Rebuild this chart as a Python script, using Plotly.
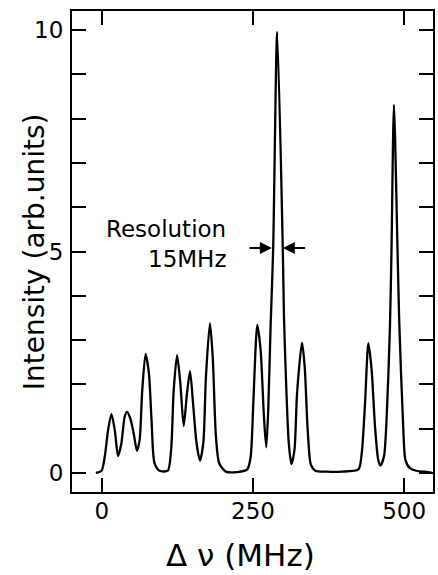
import plotly.graph_objects as go

# Spectrum trace (Δν in MHz, intensity in arb. units)
freq_mhz = [-9.9, -0.5, 4.9, 10.4, 15.9, 21.4, 26.9, 32.4, 37.8, 41.7, 47.1, 52.6, 58.1,
            62.5, 66.9, 72.4, 77.9, 82.2, 87.2, 95.4, 109.1, 114.6, 118.9, 124.5, 129.9,
            135.4, 140.9, 145.9, 151.3, 156.7, 162.3, 167.8, 172.2, 178.8, 183.5, 188.6,
            194.1, 205.0, 224.2, 240.6, 246.2, 250.5, 257.1, 262.6, 268.1, 271.9, 275.2,
            279.1, 283.4, 290.0, 299.3, 301.3, 305.4, 309.2, 313.6, 318.6, 322.9, 331.1,
            335.5, 340.5, 345.9, 353.1, 372.2, 396.9, 424.3, 429.8, 435.3, 440.8, 446.2,
            451.8, 457.2, 461.0, 466.6, 470.9, 476.5, 479.1, 483.1, 489.0, 491.8, 498.4,
            502.2, 509.4, 520.2, 539.5, 546.0]
intensity = [0.00, 0.05, 0.37, 0.97, 1.33, 0.97, 0.38, 0.67, 1.27, 1.38, 1.23, 0.90, 0.50,
             0.74, 1.87, 2.69, 2.25, 1.20, 0.22, 0.05, 0.05, 0.52, 1.87, 2.66, 2.02,
             1.06, 1.80, 2.30, 1.50, 0.67, 0.28, 0.67, 2.17, 3.38, 2.60, 0.85,
             0.22, 0.03, 0.02, 0.08, 0.37, 1.57, 3.34, 2.78, 1.27, 0.58, 1.42,
             3.30, 5.07, 9.96, 5.07, 3.50, 1.80, 0.67, 0.20, 0.52, 1.80, 2.94,
             2.40, 0.97, 0.18, 0.05, 0.03, 0.03, 0.08, 0.44, 1.57, 2.93, 2.33,
             1.05, 0.29, 0.17, 0.37, 1.20, 3.30, 5.07, 8.31, 5.07, 3.45, 1.05,
             0.29, 0.11, 0.05, 0.02, 0.00]

x_tickvals = [0, 250, 500]
x_ticktext = ["0", "250", "500"]
y_tickvals = [0, 1, 2, 3, 4, 5, 6, 7, 8, 9, 10]
y_ticktext = ["0", "", "", "", "", "5", "", "", "", "", "10"]

FONT = "DejaVu Sans"

fig = go.Figure()
fig.add_trace(go.Scatter(x=freq_mhz, y=intensity, mode="lines",
                         line=dict(color="black", width=2.3, shape="spline", smoothing=0.7),
                         showlegend=False, hoverinfo="skip"))

axis_common = dict(showline=True, linecolor="black", linewidth=2, mirror="ticks",
                   ticks="inside", ticklen=14, tickwidth=2, tickcolor="black",
                   showgrid=False, zeroline=False,
                   tickfont=dict(family=FONT, size=23, color="black"))

fig.update_xaxes(range=[-49.3, 547.7], tickvals=x_tickvals, ticktext=x_ticktext,
                 ticklabelstandoff=-3, **axis_common)
fig.update_yaxes(range=[-0.43, 10.43], tickvals=y_tickvals, ticktext=y_ticktext,
                 ticklabelstandoff=2, **axis_common)

annotations = [
    dict(text="Δ ν (MHz)", xref="paper", yref="paper", x=0.468, y=-0.131,
         xanchor="center", yanchor="middle", showarrow=False,
         font=dict(family=FONT, size=31, color="black")),
    dict(text="Intensity (arb.units)", xref="paper", yref="paper", x=-0.103, y=0.5,
         xanchor="center", yanchor="middle", textangle=-90, showarrow=False,
         font=dict(family=FONT, size=28, color="black")),
    dict(text="Resolution", xref="x", yref="y", x=208.9, y=5.5,
         xanchor="right", yanchor="middle", showarrow=False,
         font=dict(family=FONT, size=23, color="black")),
    dict(text="15MHz", xref="x", yref="y", x=208.9, y=4.83,
         xanchor="right", yanchor="middle", showarrow=False,
         font=dict(family=FONT, size=23, color="black")),
    dict(text="", xref="x", yref="y", axref="x", ayref="y",
         x=281.2, y=5.08, ax=241.8, ay=5.08, showarrow=True,
         arrowhead=2, arrowsize=1.2, arrowwidth=2, arrowcolor="black", standoff=0),
    dict(text="", xref="x", yref="y", axref="x", ayref="y",
         x=299.3, y=5.08, ax=338.8, ay=5.08, showarrow=True,
         arrowhead=2, arrowsize=1.2, arrowwidth=2, arrowcolor="black", standoff=0),
]

fig.update_layout(width=438, height=575,
                  margin=dict(l=72, r=3, t=11, b=83),
                  paper_bgcolor="white", plot_bgcolor="white",
                  annotations=annotations,
                  font=dict(family=FONT, color="black"))

# Remove the page's default body margin so the figure fills the window exactly.
fig.write_html("out.html", config={"displayModeBar": False},
               post_script="document.body.style.margin='0px';document.body.style.overflow='hidden';")
